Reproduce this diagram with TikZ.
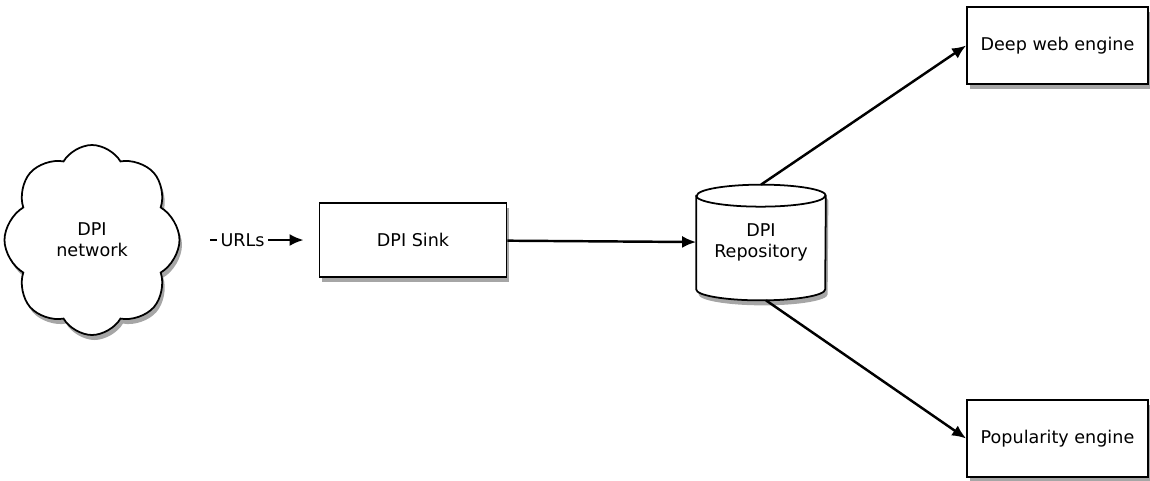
\documentclass[tikz,border=0pt]{standalone}
\usepackage{fontspec}
\setmainfont{DejaVu Sans}
\usetikzlibrary{arrows.meta,shapes.symbols,shadows,backgrounds}

\tikzset{
  shade/.style={drop shadow={shadow xshift=0.05cm, shadow yshift=-0.1cm, fill=gray!70, opacity=1}},
  box/.style={draw, line width=1pt, fill=white, shade, minimum width=3.7cm, minimum height=1.5cm, font=\fontsize{10}{12}\selectfont},
  arr/.style={-{Latex[length=2.8mm,width=2.4mm]}, line width=1.4pt}
}

\begin{document}
\begin{tikzpicture}
  \useasboundingbox (0,0) rectangle (23,-9.6);

  % Cloud
  \node[cloud, draw, line width=1pt, fill=white, shade, cloud puffs=8, cloud puff arc=120,
        minimum width=3.5cm, minimum height=3.8cm, align=center,
        font=\fontsize{10}{12}\selectfont] (net) at (1.84,-4.8) {DPI\\network};

  % Sink
  \node[box, minimum width=3.74cm, minimum height=1.48cm] (sink) at (8.26,-4.8) {DPI Sink};

  % Repository
  \node[minimum width=2.58cm, minimum height=2.3cm, align=center,
        font=\fontsize{10}{12}\selectfont] (repo) at (15.22,-4.85) {DPI\\Repository};
  \begin{scope}[on background layer]
    \draw[line width=1pt, fill=white, shade] ([yshift=-0.22cm]repo.north west)
      -- ([yshift=0.22cm]repo.south west)
      arc[start angle=180, end angle=360, x radius=1.29cm, y radius=0.22cm]
      -- ([yshift=-0.22cm]repo.north east)
      arc[start angle=0, end angle=180, x radius=1.29cm, y radius=0.22cm] -- cycle;
    \draw[line width=1pt] ([yshift=-0.22cm]repo.north west)
      arc[start angle=180, end angle=360, x radius=1.29cm, y radius=0.22cm];
  \end{scope}

  % Engines
  \node[box, minimum width=3.62cm, minimum height=1.54cm] (deep) at (21.15,-0.91) {Deep web engine};
  \node[box, minimum width=3.62cm, minimum height=1.54cm] (pop) at (21.15,-8.77) {Popularity engine};

  % Arrows
  \draw[arr, shorten <=0.6cm, shorten >=0.3cm] (net) -- node[pos=0.45, fill=white, inner sep=2pt,
        font=\fontsize{10}{12}\selectfont] (urls) {URLs} (sink);
  \draw[arr] (sink) -- (repo);
  \draw[arr] (repo.north) -- (deep.west);
  \draw[arr] ([xshift=0.1cm]repo.south) -- (pop.west);
\end{tikzpicture}
\end{document}
